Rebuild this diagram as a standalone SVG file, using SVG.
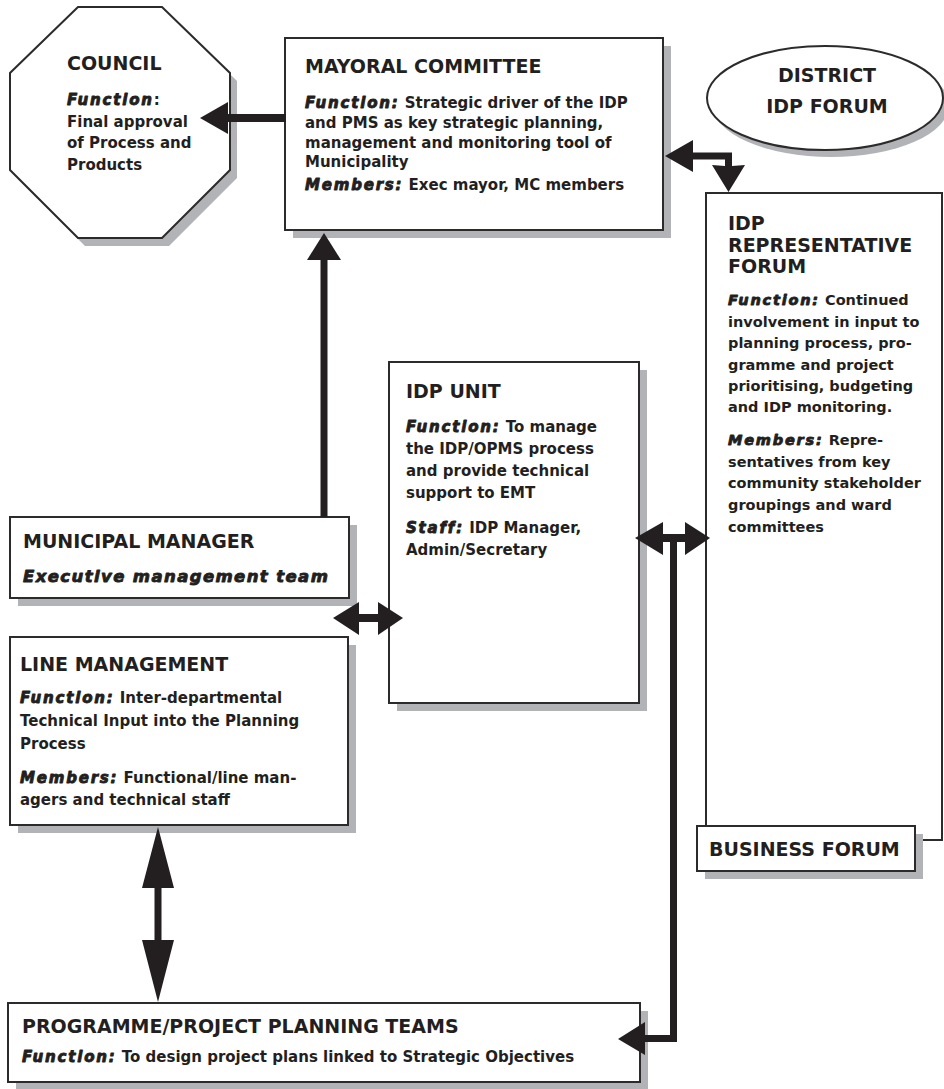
<svg xmlns="http://www.w3.org/2000/svg" width="944" height="1089" viewBox="0 0 944 1089">
<style>
.sh{fill:#b1b3b6}
.bx{fill:#fff;stroke:#2d2a2b;stroke-width:2}
.t{font-family:"DejaVu Sans","Liberation Sans",sans-serif;font-weight:bold;fill:#231f20}
.h{font-size:19px}
.b{font-size:15px}
.s{font-size:14.5px}
.fi{font-style:italic;font-weight:900;letter-spacing:1.8px;stroke:#231f20;stroke-width:0.9;stroke-linejoin:round}
.ar{fill:#231f20}
</style>
<rect width="944" height="1089" fill="#fff"/>

<g id="council">
<polygon class="sh" points="85,15 169,15 237,81 237,178 169,246 85,246 17,178 17,81"/>
<polygon class="bx" points="78,7 162,7 230,73 230,170 162,238 78,238 10,170 10,73"/>
<text class="t h" x="67" y="70">COUNCIL</text>
<text class="t b" x="67" y="105"><tspan class="fi">Function</tspan>:</text>
<text class="t b" x="67" y="127">Final approval</text>
<text class="t b" x="67" y="148">of Process and</text>
<text class="t b" x="67" y="170">Products</text>
</g>

<g id="mayoral">
<rect class="sh" x="293" y="46" width="378" height="192"/>
<rect class="bx" x="285" y="38" width="378" height="192"/>
<text class="t h" x="305" y="73">MAYORAL COMMITTEE</text>
<text class="t b" x="305" y="108"><tspan class="fi">Function:</tspan> Strategic driver of the IDP</text>
<text class="t b" x="305" y="128">and PMS as key strategic planning,</text>
<text class="t b" x="305" y="148">management and monitoring tool of</text>
<text class="t b" x="305" y="167">Municipality</text>
<text class="t b" x="305" y="190"><tspan class="fi">Members:</tspan> Exec mayor, MC members</text>
</g>

<g id="district">
<ellipse class="sh" cx="831" cy="105" rx="118" ry="52"/>
<ellipse cx="825" cy="98" rx="118" ry="52" fill="#fff" stroke="#2d2a2b" stroke-width="2"/>
<text class="t h" x="827" y="82" text-anchor="middle">DISTRICT</text>
<text class="t h" x="827" y="113" text-anchor="middle">IDP FORUM</text>
</g>

<g id="rep-forum">
<rect class="bx" x="706" y="193" width="236" height="647"/>
<text class="t h" x="728" y="230">IDP</text>
<text class="t h" x="728" y="252">REPRESENTATIVE</text>
<text class="t h" x="728" y="273">FORUM</text>
<text class="t s" x="728" y="305"><tspan class="fi">Function:</tspan> Continued</text>
<text class="t s" x="728" y="327">involvement in input to</text>
<text class="t s" x="728" y="348">planning process, pro-</text>
<text class="t s" x="728" y="370">gramme and project</text>
<text class="t s" x="728" y="391">prioritising, budgeting</text>
<text class="t s" x="728" y="412">and IDP monitoring.</text>
<text class="t s" x="728" y="445"><tspan class="fi">Members:</tspan> Repre-</text>
<text class="t s" x="728" y="467">sentatives from key</text>
<text class="t s" x="728" y="488">community stakeholder</text>
<text class="t s" x="728" y="510">groupings and ward</text>
<text class="t s" x="728" y="532">committees</text>
</g>

<g id="business-forum">
<rect class="sh" x="705" y="834" width="218" height="45"/>
<rect class="bx" x="697" y="826" width="218" height="45"/>
<text class="t h" x="709" y="856">BUSINESS FORUM</text>
</g>

<g id="idp-unit">
<rect class="sh" x="397" y="370" width="250" height="341"/>
<rect class="bx" x="389" y="362" width="250" height="341"/>
<text class="t h" x="406" y="398">IDP UNIT</text>
<text class="t b" x="406" y="432"><tspan class="fi">Function:</tspan> To manage</text>
<text class="t b" x="406" y="454">the IDP/OPMS process</text>
<text class="t b" x="406" y="476">and provide technical</text>
<text class="t b" x="406" y="498">support to EMT</text>
<text class="t b" x="406" y="533"><tspan class="fi">Staff:</tspan> IDP Manager,</text>
<text class="t b" x="406" y="555">Admin/Secretary</text>
</g>

<g id="municipal-manager">
<rect class="sh" x="18" y="525" width="339" height="81"/>
<rect class="bx" x="10" y="517" width="339" height="81"/>
<text class="t h" x="23" y="548">MUNICIPAL MANAGER</text>
<text class="t" x="23" y="582" style="font-size:16.5px"><tspan class="fi" style="letter-spacing:1.4px">Executive management team</tspan></text>
</g>

<g id="line-management">
<rect class="sh" x="18" y="645" width="338" height="188"/>
<rect class="bx" x="10" y="637" width="338" height="188"/>
<text class="t h" x="20" y="671">LINE MANAGEMENT</text>
<text class="t b" x="20" y="703"><tspan class="fi">Function:</tspan> Inter-departmental</text>
<text class="t b" x="20" y="726">Technical Input into the Planning</text>
<text class="t b" x="20" y="749">Process</text>
<text class="t b" x="20" y="783"><tspan class="fi">Members:</tspan> Functional/line man-</text>
<text class="t b" x="20" y="805">agers and technical staff</text>
</g>

<g id="programme-teams">
<rect class="sh" x="16" y="1011" width="632" height="78"/>
<rect class="bx" x="8" y="1003" width="632" height="79"/>
<text class="t h" x="22" y="1033">PROGRAMME/PROJECT PLANNING TEAMS</text>
<text class="t b" x="22" y="1062"><tspan class="fi">Function:</tspan> To design project plans linked to Strategic Objectives</text>
</g>

<g id="connectors" class="ar">
<rect x="226" y="114" width="60" height="8"/>
<polygon points="200,118 228,102 228,134"/>
<rect x="320.5" y="258" width="7" height="259"/>
<polygon points="324,233 307,260 341,260"/>
<polygon points="665,156 693,140 693,152.5 732,152.5 732,166 745,165 728.5,192 712,165 725,166 725,159.5 693,159.5 693,172"/>
<polygon points="333,618 359,602 359,614 378,614 378,602 403,618 378,635 378,622 359,622 359,635"/>
<polygon points="635,538 663,522 663,534 685,534 685,522 710,538 685,555 685,542 677,542 677,1042 645,1042 645,1055 618,1039 645,1022 645,1035 670,1035 670,542 663,542 663,555"/>
<polygon points="158,827 174,888 161.5,888 161.5,940 174,940 158,1002 142,940 154.5,940 154.5,888 142,888"/>
</g>
</svg>
